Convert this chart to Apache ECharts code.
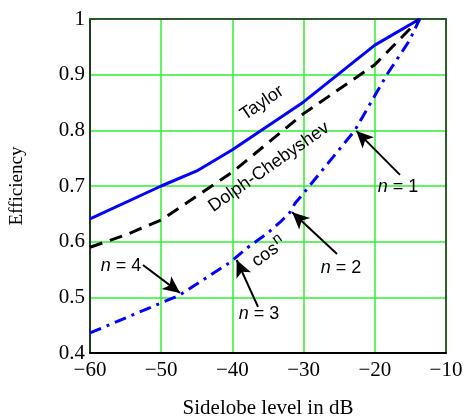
<!DOCTYPE html>
<html>
<head>
<meta charset="utf-8">
<script src="https://cdn.jsdelivr.net/npm/echarts@6/dist/echarts.min.js"></script>
<style>html,body{margin:0;padding:0;background:#fff}#c{width:468px;height:417px}</style>
</head>
<body>
<div id="c"></div>
<script>
// ---- data ----
const taylorX = [-60, -50, -45, -40, -30, -20, -13.7];
const taylorY = [0.641, 0.700, 0.727, 0.765, 0.851, 0.953, 1.0];
const dolphX = [-60, -55, -50, -40, -30, -20, -13.7];
const dolphY = [0.590, 0.612, 0.639, 0.725, 0.830, 0.918, 1.0];
const cosX = [-60, -50, -47.4, -40.3, -37.8, -35.1, -33.3, -31.9, -31.2, -30.2, -22.8, -18.3, -15.1, -13.7];
const cosY = [0.436, 0.490, 0.504, 0.563, 0.590, 0.615, 0.635, 0.653, 0.669, 0.684, 0.800, 0.900, 0.962, 1.0];
const xMin = -60, xMax = -10, xStep = 10;
const yMin = 0.4, yMax = 1.0, yStep = 0.1;
// annotation arrows: [tailX, tailY, headX, headY]
const arrowN1 = [-16.46, 0.720, -22.6, 0.799];
const arrowN2 = [-25.3, 0.578, -31.6, 0.653];
const arrowN3 = [-36.4, 0.483, -39.4, 0.567];
const arrowN4 = [-52.56, 0.558, -47.36, 0.508];
// label anchor points
const lblTaylor = [-35.84, 0.849];
const lblDolph = [-34.86, 0.734];
const lblCos = [-34.86, 0.581];
const lblN1 = [-16.74, 0.698];
const lblN2 = [-24.75, 0.553];
const lblN3 = [-36.26, 0.470];
const lblN4 = [-55.65, 0.556];

const zip = (xs, ys) => xs.map((x, i) => [x, ys[i]]);
const serif = 'Liberation Serif';
const sans = 'Liberation Sans';

const nRich = {
  i: { fontFamily: sans, fontStyle: 'italic', fontSize: 18, color: '#000' },
  t: { fontFamily: sans, fontSize: 18, color: '#000' }
};
function textPt(pt, label) {
  return { coord: pt, symbol: 'circle', symbolSize: 1,
    itemStyle: { color: 'rgba(0,0,0,0)' },
    label: Object.assign({ show: true, position: 'inside' }, label) };
}
function nLabel(pt, k) {
  return textPt(pt, { formatter: '{i|n}{t| = ' + k + '}', rich: nRich });
}
function arrow(a) {
  return [{ coord: [a[0], a[1]] }, { coord: [a[2], a[3]] }];
}

const chart = echarts.init(document.getElementById('c'), null, { renderer: 'canvas' });
chart.setOption({
  animation: false,
  backgroundColor: '#fff',
  grid: { left: 90, right: 22, top: 19, bottom: 64, containLabel: false, outerBoundsMode: 'none' },
  xAxis: [{
    type: 'value', min: xMin, max: xMax, interval: xStep, position: 'bottom',
    axisLine: { lineStyle: { color: '#000', width: 2 } },
    axisTick: { show: false },
    axisLabel: { fontFamily: serif, fontSize: 21, color: '#000', margin: 7,
      formatter: v => (v < 0 ? '\u2212' + Math.abs(v) : String(v)) },
    splitLine: { show: true, lineStyle: { color: '#33ee33', width: 1.5 } },
    name: 'Sidelobe level in dB', nameLocation: 'middle', nameGap: 45,
    nameTextStyle: { fontFamily: serif, fontSize: 21, color: '#000' }
  }, {
    type: 'value', min: xMin, max: xMax, interval: xStep, position: 'top',
    axisLine: { show: true, lineStyle: { color: '#2a5a2a', width: 2 } },
    axisTick: { show: false }, axisLabel: { show: false }, splitLine: { show: false }
  }],
  yAxis: [{
    type: 'value', min: yMin, max: yMax, interval: yStep, position: 'left',
    axisLine: { show: true, lineStyle: { color: '#1e3a1e', width: 2 } },
    axisTick: { show: false },
    axisLabel: { fontFamily: serif, fontSize: 21, color: '#000', margin: 5,
      formatter: v => (Math.abs(v - 1) < 1e-9 ? '1' : v.toFixed(1)) },
    splitLine: { show: true, lineStyle: { color: '#33ee33', width: 1.5 } },
    name: 'Efficiency', nameLocation: 'middle', nameGap: 63, nameRotate: 90,
    nameTextStyle: { fontFamily: serif, fontSize: 19, color: '#000' }
  }, {
    type: 'value', min: yMin, max: yMax, interval: yStep, position: 'right',
    axisLine: { show: true, lineStyle: { color: '#2a5a2a', width: 2 } },
    axisTick: { show: false }, axisLabel: { show: false }, splitLine: { show: false }
  }],
  series: [{
    name: 'Taylor', type: 'line', data: zip(taylorX, taylorY), showSymbol: false,
    lineStyle: { color: '#0000ff', width: 3 },
    markPoint: {
      silent: true,
      data: [
        textPt(lblTaylor, { formatter: 'Taylor', rotate: 34, fontFamily: sans, fontSize: 18, color: '#000' }),
        textPt(lblDolph, { formatter: 'Dolph-Chebyshev', rotate: 35, fontFamily: sans, fontSize: 18, color: '#000' }),
        textPt(lblCos, { formatter: '{a|cos}{b|n}', rotate: 36,
          rich: { a: { fontFamily: sans, fontSize: 18, color: '#000' },
                  b: { fontFamily: sans, fontSize: 15, color: '#000', verticalAlign: 'top', padding: [0, 0, 12, 1] } } }),
        nLabel(lblN1, 1), nLabel(lblN2, 2), nLabel(lblN3, 3), nLabel(lblN4, 4)
      ]
    }
  }, {
    name: 'Dolph-Chebyshev', type: 'line', data: zip(dolphX, dolphY), showSymbol: false,
    lineStyle: { color: '#000', width: 3, type: [13, 8] }
  }, {
    name: 'cos^n', type: 'line', data: zip(cosX, cosY), showSymbol: false,
    lineStyle: { color: '#0000ff', width: 3, type: [12, 6, 3, 6] },
    markLine: {
      silent: true,
      symbol: ['none', 'arrow'], symbolSize: [12, 17],
      label: { show: false },
      lineStyle: { color: '#000', width: 2, type: 'solid' },
      data: [arrow(arrowN1), arrow(arrowN2), arrow(arrowN3), arrow(arrowN4)]
    }
  }]
});
</script>
</body>
</html>
